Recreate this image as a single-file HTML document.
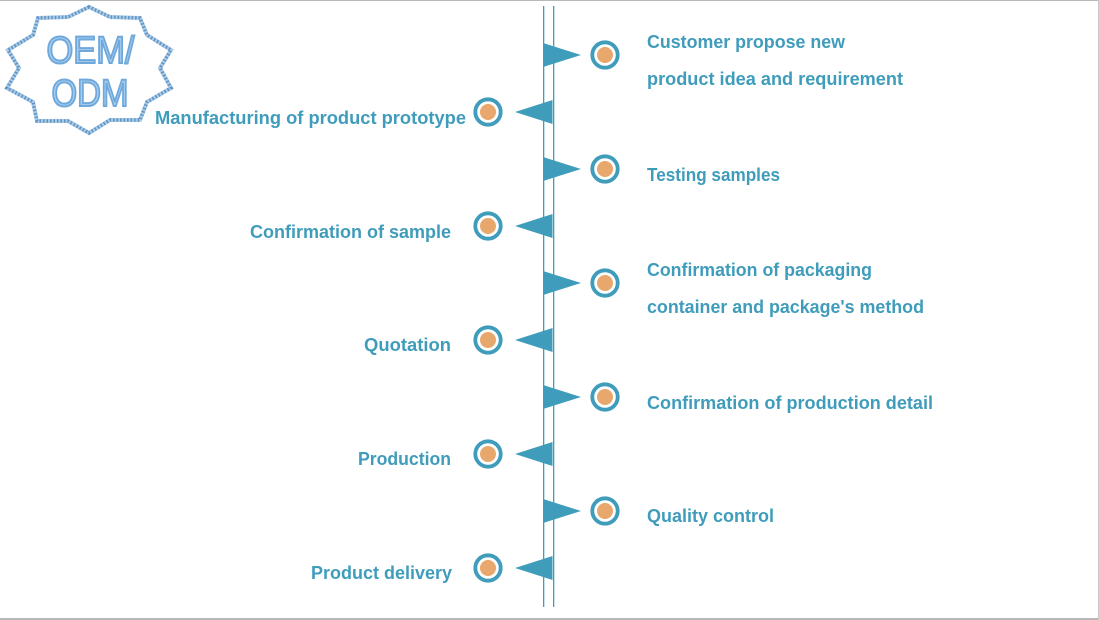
<!DOCTYPE html>
<html><head><meta charset="utf-8"><style>
html,body{margin:0;padding:0;background:#fff;width:1099px;height:620px;overflow:hidden}
svg{display:block}
.t{font-family:"Liberation Sans",sans-serif;font-weight:bold;font-size:18.5px;fill:#3f9cbb}
</style></head><body>
<svg width="1099" height="620" viewBox="0 0 1099 620" xmlns="http://www.w3.org/2000/svg">
<rect x="0" y="0" width="1099" height="1" fill="#b8b8b8"/>
<rect x="0" y="618" width="1099" height="2" fill="#b8b8b8"/>
<rect x="1098" y="0" width="1" height="620" fill="#c8c8c8"/>
<polygon points="89,7 68,17 38,18 33,35 8,50 19,68 7,88 33,102 37,121 68,121 89,133 110,120 140,120 147,102 171,88 160,68 171,50 147,35 140,18 110,17" fill="none" stroke="#a9cbe8" stroke-width="4"/>
<polygon points="89,7 68,17 38,18 33,35 8,50 19,68 7,88 33,102 37,121 68,121 89,133 110,120 140,120 147,102 171,88 160,68 171,50 147,35 140,18 110,17" fill="none" stroke="#5f93c2" stroke-width="3.5" stroke-dasharray="1.5 2"/>
<text x="90.5" y="63" text-anchor="middle" font-family="'Liberation Sans',sans-serif" font-size="38" fill="#a9cdee" stroke="#6fa9dc" stroke-width="2" textLength="88" lengthAdjust="spacingAndGlyphs">OEM/</text>
<text x="90" y="106" text-anchor="middle" font-family="'Liberation Sans',sans-serif" font-size="38" fill="#a9cdee" stroke="#6fa9dc" stroke-width="2" textLength="77" lengthAdjust="spacingAndGlyphs">ODM</text>
<rect x="543" y="6" width="1.3" height="601" fill="#3f9cbb"/>
<rect x="553" y="6" width="1.3" height="601" fill="#3f9cbb"/>
<g fill="#3f9cbb">
<polygon points="543,43 581,55 543,67"/><polygon points="543,157 581,169 543,181"/><polygon points="543,271 581,283 543,295"/><polygon points="543,385 581,397 543,409"/><polygon points="543,499 581,511 543,523"/>
<polygon points="552.5,100 515,112 552.5,124"/><polygon points="552.5,214 515,226 552.5,238"/><polygon points="552.5,328 515,340 552.5,352"/><polygon points="552.5,442 515,454 552.5,466"/><polygon points="552.5,556 515,568 552.5,580"/>
</g>
<g fill="#fff" stroke="#3f9cbb" stroke-width="3.8">
<circle cx="605" cy="55" r="12.7"/><circle cx="605" cy="169" r="12.7"/><circle cx="605" cy="283" r="12.7"/><circle cx="605" cy="397" r="12.7"/><circle cx="605" cy="511" r="12.7"/>
<circle cx="488" cy="112" r="12.7"/><circle cx="488" cy="226" r="12.7"/><circle cx="488" cy="340" r="12.7"/><circle cx="488" cy="454" r="12.7"/><circle cx="488" cy="568" r="12.7"/>
</g>
<g fill="#e8a76c">
<circle cx="605" cy="55" r="8"/><circle cx="605" cy="169" r="8"/><circle cx="605" cy="283" r="8"/><circle cx="605" cy="397" r="8"/><circle cx="605" cy="511" r="8"/>
<circle cx="488" cy="112" r="8"/><circle cx="488" cy="226" r="8"/><circle cx="488" cy="340" r="8"/><circle cx="488" cy="454" r="8"/><circle cx="488" cy="568" r="8"/>
</g>
<g class="t">
<text class="t" x="647" y="48" textLength="198" lengthAdjust="spacingAndGlyphs">Customer propose new</text>
<text class="t" x="647" y="85" textLength="256" lengthAdjust="spacingAndGlyphs">product idea and requirement</text>
<text class="t" x="647" y="181" textLength="133" lengthAdjust="spacingAndGlyphs">Testing samples</text>
<text class="t" x="647" y="276" textLength="225" lengthAdjust="spacingAndGlyphs">Confirmation of packaging</text>
<text class="t" x="647" y="313" textLength="277" lengthAdjust="spacingAndGlyphs">container and package's method</text>
<text class="t" x="647" y="409" textLength="286" lengthAdjust="spacingAndGlyphs">Confirmation of production detail</text>
<text class="t" x="647" y="522" textLength="127" lengthAdjust="spacingAndGlyphs">Quality control</text>
<text class="t" x="155" y="124" textLength="311" lengthAdjust="spacingAndGlyphs">Manufacturing of product prototype</text>
<text class="t" x="250" y="238" textLength="201" lengthAdjust="spacingAndGlyphs">Confirmation of sample</text>
<text class="t" x="364" y="351" textLength="87" lengthAdjust="spacingAndGlyphs">Quotation</text>
<text class="t" x="358" y="465" textLength="93" lengthAdjust="spacingAndGlyphs">Production</text>
<text class="t" x="311" y="579" textLength="141" lengthAdjust="spacingAndGlyphs">Product delivery</text>
</g>
</svg>
</body></html>
